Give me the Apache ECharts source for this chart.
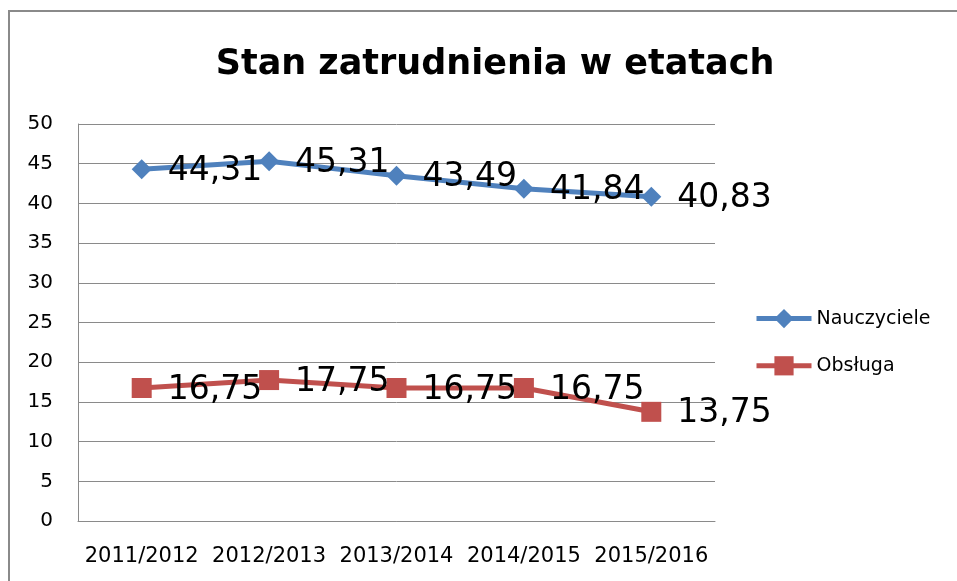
<!DOCTYPE html>
<html>
<head>
<meta charset="utf-8">
<script src="https://cdn.jsdelivr.net/npm/echarts@6/dist/echarts.min.js"></script>
<style>
html,body{margin:0;padding:0;background:#fff;}
#frame{position:absolute;left:8px;top:10px;width:1000px;height:1000px;border:2px solid #8a8a8a;box-sizing:border-box;}
#chart{position:absolute;left:0;top:0;width:957px;height:581px;}
</style>
</head>
<body>
<div id="frame"></div>
<div id="chart"></div>
<script>
const titleText = 'Stan zatrudnienia w etatach';
const categories = ['2011/2012', '2012/2013', '2013/2014', '2014/2015', '2015/2016'];
const nauczyciele = [44.31, 45.31, 43.49, 41.84, 40.83];
const obsluga = [16.75, 17.75, 16.75, 16.75, 13.75];
const seriesNames = ['Nauczyciele', 'Obsługa'];
const yTicks = { min: 0, max: 50, interval: 5 };

const fmt = p => String(p.value.toFixed(2)).replace('.', ',');
const chart = echarts.init(document.getElementById('chart'), null, { renderer: 'canvas' });
const labelStyle = {
  show: true, position: 'right', distance: 16, formatter: fmt,
  color: '#000', fontFamily: 'DejaVu Sans', fontSize: 33, offset: [0, 2]
};
chart.setOption({
  animation: false,
  backgroundColor: 'transparent',
  title: {
    text: titleText, left: 490, top: 42, textAlign: 'center',
    textStyle: { fontFamily: 'DejaVu Sans', fontWeight: 'bold', fontSize: 35, color: '#000' }
  },
  legend: {
    orient: 'vertical', left: 754, top: 309, padding: 0,
    itemWidth: 55, itemHeight: 24, itemGap: 28,
    lineStyle: { width: 5 },
    textStyle: { fontFamily: 'DejaVu Sans', fontSize: 19, color: '#000' },
    data: seriesNames
  },
  grid: { left: 78, right: 242, top: 124, bottom: 60, containLabel: false },
  xAxis: {
    type: 'category', data: categories, boundaryGap: true,
    axisLine: { lineStyle: { color: '#8a8a8a', width: 1 } },
    axisTick: { show: false },
    axisLabel: { interval: 0, color: '#000', fontFamily: 'DejaVu Sans', fontSize: 21, margin: 25 }
  },
  yAxis: {
    type: 'value', min: yTicks.min, max: yTicks.max, interval: yTicks.interval,
    axisLine: { show: true, lineStyle: { color: '#8a8a8a', width: 1 } },
    axisTick: { show: false },
    splitLine: { lineStyle: { color: '#8a8a8a', width: 1 } },
    axisLabel: { color: '#000', fontFamily: 'DejaVu Sans', fontSize: 20, margin: 25 }
  },
  series: [
    {
      name: seriesNames[0], type: 'line', data: nauczyciele,
      symbol: 'diamond', symbolSize: 20,
      lineStyle: { color: '#4F81BD', width: 5 },
      itemStyle: { color: '#4F81BD' },
      label: labelStyle
    },
    {
      name: seriesNames[1], type: 'line', data: obsluga,
      symbol: 'rect', symbolSize: 20,
      lineStyle: { color: '#C0504D', width: 5 },
      itemStyle: { color: '#C0504D' },
      label: labelStyle
    }
  ]
});
</script>
</body>
</html>
